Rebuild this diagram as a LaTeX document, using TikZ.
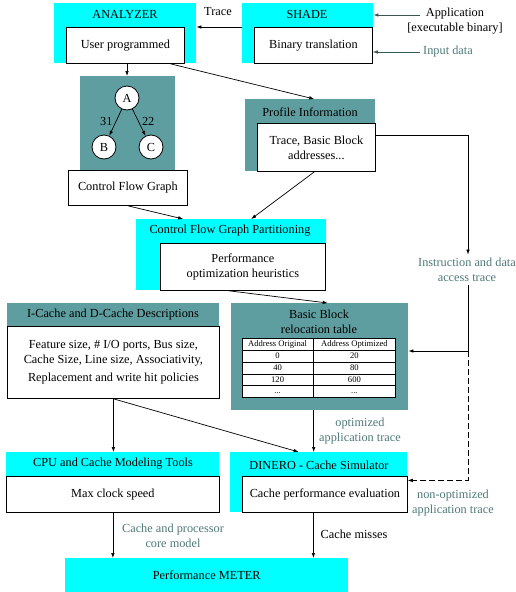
\documentclass[tikz,border=0pt]{standalone}
\usepackage{fontspec}
\setmainfont{Liberation Serif}
\usepackage{array}
\usetikzlibrary{arrows.meta}

\definecolor{boxcyan}{HTML}{00FFFF}
\definecolor{boxteal}{HTML}{5F9EA0}
\definecolor{notegray}{HTML}{4F7878}
\definecolor{feedgray}{HTML}{3A5656}

\begin{document}
\begin{tikzpicture}[x=1pt, y=-1pt, font=\fontsize{12.3}{15}\selectfont,
    cyanbox/.style={fill=boxcyan, inner sep=0pt, anchor=north west},
    tealbox/.style={fill=boxteal, inner sep=0pt, anchor=north west},
    inbox/.style={draw=black, line width=0.8pt, fill=white, inner sep=0pt, anchor=north west, align=center},
    vertex/.style={circle, draw=black, line width=0.8pt, fill=white, minimum size=24pt, inner sep=0pt},
    note/.style={text=notegray, align=center},
    arr/.style={line width=0.7pt, -{Latex[length=5pt,width=3.6pt]}}]
    \useasboundingbox (0,0) rectangle (516,592);

    % analyzer and shade
    \node[cyanbox, minimum width=142pt, minimum height=60pt] (analyzer) at (54,3) {};
    \node (analyzerT) at (125,14) {ANALYZER};
    \node[inbox, minimum width=118pt, minimum height=36pt] (user) at (66,27) {User programmed};
    \node[cyanbox, minimum width=131pt, minimum height=60pt] (shade) at (242,3) {};
    \node (shadeT) at (307,14) {SHADE};
    \node[inbox, minimum width=118pt, minimum height=36pt] (bintr) at (254,27) {Binary translation};
    \node[align=center] (appl) at (455,21) {Application\\{}[executable binary]};
    \node[note] (inp) at (448,52) {Input data};
    \coordinate (appin) at (420,15);
    \draw[arr, draw=feedgray] (appin) -- (shade.east |- appin);
    \draw[arr, draw=feedgray] (inp.west) -- (bintr.east |- inp.west);
    \draw[arr] (shade.west |- bintr.north) -- (analyzer.east |- bintr.north);
    \node (traceL) at (218,12) {Trace};

    % control flow graph
    \node[tealbox, minimum width=95pt, minimum height=94pt] (cfg) at (80,76) {};
    \node[vertex] (A) at (127,98) {A};
    \node[vertex] (B) at (104,147) {B};
    \node[vertex] (C) at (151,147) {C};
    \draw[arr] (A) -- node[left, pos=0.45] {31} (B);
    \draw[arr] (A) -- node[right, pos=0.45] {22} (C);
    \node[inbox, minimum width=119pt, minimum height=35pt] (cfgL) at (68,170) {Control Flow Graph};
    \draw[arr] (user.south -| A) -- (cfg.north -| A);

    % profile information
    \node[tealbox, minimum width=130pt, minimum height=72pt] (profile) at (245,99) {};
    \node (profileT) at (310,112) {Profile Information};
    \node[inbox, minimum width=118pt, minimum height=48pt] (prof) at (257,123) {Trace, Basic Block\\addresses...};
    \draw[arr] ([xshift=45pt]user.south) -- ([xshift=4pt]profile.north);

    % partitioning
    \node[cyanbox, minimum width=190pt, minimum height=71pt] (cfgp) at (136,219) {};
    \node (cfgpT) at (230,231) {Control Flow Graph Partitioning};
    \node[inbox, minimum width=165pt, minimum height=47pt] (perf) at (160,243) {Performance\\optimization heuristics};
    \draw[arr] (cfgL.south) -- ([xshift=-48pt]cfgp.north);
    \draw[arr] ([xshift=-2pt]prof.south) -- ([xshift=20pt]cfgp.north);

    % trace tap
    \node[note] (instr) at (467,270) {Instruction and data\\access trace};
    \coordinate (split) at (468,351);
    \draw[arr] ([yshift=12pt]prof.east) -| (split |- instr.north);
    \draw[line width=0.7pt] (instr.south -| split) -- (split);

    % relocation table
    \node[tealbox, minimum width=177pt, minimum height=107pt] (bb) at (231,303) {};
    \node[align=center] (bbT) at (319,322) {Basic Block\\relocation table};
    \node[inner sep=0pt, fill=white, font=\fontsize{8.6}{11}\selectfont] (tbl) at (319,368) {%
        \setlength{\arrayrulewidth}{0.8pt}%
        \begin{tabular}{|@{}w{c}{70pt}@{}|@{}w{c}{82pt}@{}|}\hline
        Address Original & Address Optimized\\\hline
        0 & 20\\\hline
        40 & 80\\\hline
        120 & 600\\\hline
        ... & ...\\\hline
        \end{tabular}};
    \draw[arr] ([xshift=-14pt]perf.south) -- ([xshift=8pt]bb.north);
    \draw[arr] (split) -- (bb.east |- split);

    % cache descriptions
    \node[tealbox, minimum width=212pt, minimum height=95pt] (cache) at (7,303) {};
    \node (cacheT) at (113,315) {I-Cache and D-Cache Descriptions};
    \node[inbox, minimum width=212pt, minimum height=72pt] (desc) at (7,326) {Feature size, \# I/O ports, Bus size,\\Cache Size, Line size, Associativity,\\[3pt]Replacement and write hit policies};

    % tools, simulator, meter
    \node[cyanbox, minimum width=213pt, minimum height=60pt] (cpu) at (6,452) {};
    \node (cpuT) at (113,464) {CPU and Cache Modeling Tools};
    \node[inbox, minimum width=213pt, minimum height=36pt] (clk) at (6,476) {Max clock speed};
    \node[cyanbox, minimum width=177pt, minimum height=60pt] (dinero) at (230,452) {};
    \node (dineroT) at (319,465) {DINERO - Cache Simulator};
    \node[inbox, minimum width=165pt, minimum height=36pt] (cpe) at (242,476) {Cache performance evaluation};
    \node[cyanbox, minimum width=283pt, minimum height=34pt] (meter) at (65,558) {Performance METER};

    \draw[arr] (desc.south) -- (cpu.north -| desc.south);
    \draw[arr] (desc.south) -- ([xshift=-20pt]dinero.north);
    \draw[arr] ([xshift=-6pt]bb.south) -- ([xshift=-6pt]bb.south |- dinero.north);
    \node[note] (optL) at (360,431) {optimized\\application trace};
    \draw[arr, dash pattern=on 6pt off 3pt] (split) |- ([yshift=14pt]cpe.east);
    \node[note] (nonoptL) at (453,503) {non-optimized\\application trace};
    \draw[arr] (clk.south) -- (clk.south |- meter.north);
    \node[note] (modelL) at (173,536) {Cache and processor\\core model};
    \draw[arr] ([xshift=-11.5pt]cpe.south) -- ([xshift=-11.5pt]cpe.south |- meter.north);
    \node (missL) at (354,534) {Cache misses};
\end{tikzpicture}
\end{document}
